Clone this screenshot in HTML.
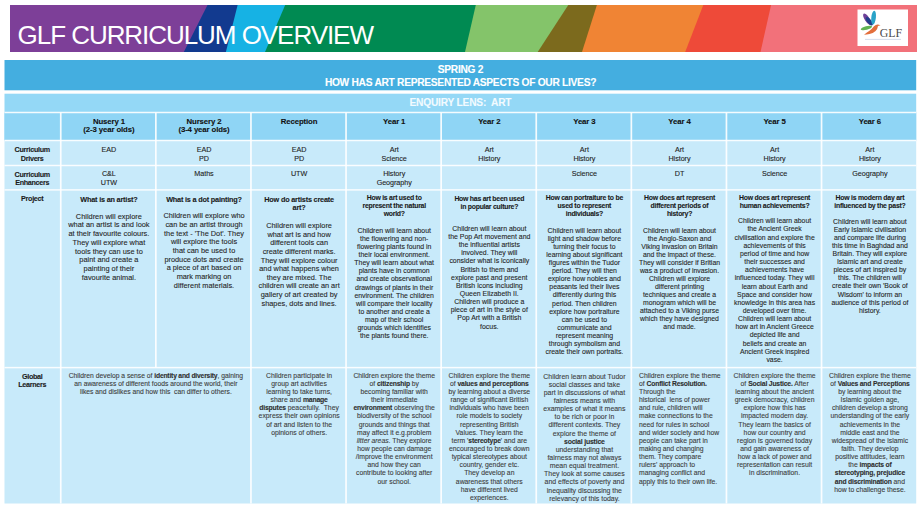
<!DOCTYPE html>
<html><head><meta charset="utf-8"><style>
html,body{margin:0;padding:0;background:#fff;width:920px;height:508px;overflow:hidden;}
body{position:relative;font-family:"Liberation Sans",sans-serif;}
.t{position:absolute;white-space:nowrap;-webkit-text-stroke:0.1px currentColor;}
svg{position:absolute;left:0;top:0;}
b{font-weight:700;}
</style></head><body>
<svg width="920" height="508" viewBox="0 0 920 508">
<clipPath id="bc"><rect x="10" y="5" width="907" height="47"/></clipPath><g clip-path="url(#bc)">
<path d="M0,0 L922,0 L922,60 L0,60 Z" fill="#7d3f98"/>
<path d="M209.01276595744682,2 L922,2 L922,55 L182.2872340425532,55 Z" fill="#123a8f"/>
<path d="M238.34680851063828,2 L922,2 L922,55 L225.15319148936172,55 Z" fill="#16b2e4"/>
<path d="M286.48936170212767,2 L922,2 L922,55 L263.7106382978723,55 Z" fill="#008a52"/>
<path d="M476.48936170212767,2 L922,2 L922,55 L464.31063829787234,55 Z" fill="#84c46a"/>
<path d="M570.2531914893616,2 L922,2 L922,55 L535.7468085106384,55 Z" fill="#7c6a1d"/>
<path d="M597.8510638297872,2 L922,2 L922,55 L581.0489361702128,55 Z" fill="#f08434"/>
<path d="M704.4553191489362,2 L922,2 L922,55 L684.0446808510638,55 Z" fill="#ee4a39"/>
<path d="M771.7765957446809,2 L922,2 L922,55 L759.8234042553191,55 Z" fill="#f2717a"/>
</g>
<rect x="4.5" y="60.0" width="911.7" height="30.299999999999997" fill="#44aee0"/>
<rect x="4.5" y="93.7" width="911.7" height="46.8" fill="#94d8f6"/>
<rect x="4.5" y="112.5" width="911.7" height="28.0" fill="#8fd5f5"/>
<rect x="4.5" y="140.5" width="911.7" height="363.0" fill="#c8eafa"/>
<rect x="4.5" y="111.75" width="911.7" height="1.5" fill="#fff" opacity="0.9"/>
<rect x="4.5" y="139.75" width="911.7" height="1.5" fill="#fff" opacity="0.9"/>
<rect x="4.5" y="164.75" width="911.7" height="1.5" fill="#fff" opacity="0.9"/>
<rect x="4.5" y="189.15" width="911.7" height="1.5" fill="#fff" opacity="0.9"/>
<rect x="4.5" y="366.85" width="911.7" height="1.5" fill="#fff" opacity="0.9"/>
<rect x="59.9" y="112.5" width="1.7" height="391.0" fill="#fff" opacity="0.9"/>
<rect x="155.0" y="112.5" width="1.7" height="255.10000000000002" fill="#fff" opacity="0.9"/>
<rect x="250.1" y="112.5" width="1.7" height="391.0" fill="#fff" opacity="0.9"/>
<rect x="345.19999999999993" y="112.5" width="1.7" height="391.0" fill="#fff" opacity="0.9"/>
<rect x="440.29999999999995" y="112.5" width="1.7" height="391.0" fill="#fff" opacity="0.9"/>
<rect x="535.4" y="112.5" width="1.7" height="391.0" fill="#fff" opacity="0.9"/>
<rect x="630.4999999999999" y="112.5" width="1.7" height="391.0" fill="#fff" opacity="0.9"/>
<rect x="725.5999999999999" y="112.5" width="1.7" height="391.0" fill="#fff" opacity="0.9"/>
<rect x="820.6999999999999" y="112.5" width="1.7" height="391.0" fill="#fff" opacity="0.9"/>
<rect x="857.5" y="9.5" width="50.5" height="36.5" fill="#fff"/>
<ellipse cx="867.2" cy="19.2" rx="2.4" ry="6.6" transform="rotate(-33 867.2 19.2)" fill="#6d4198"/>
<ellipse cx="869.3" cy="21.3" rx="2.1" ry="5" transform="rotate(-38 869.3 21.3)" fill="#213f8c"/>
<ellipse cx="873.6" cy="17.6" rx="2.3" ry="7" transform="rotate(6 873.6 17.6)" fill="#2aa3c8"/>
<ellipse cx="866.4" cy="28" rx="5.8" ry="1.9" transform="rotate(-14 866.4 28)" fill="#62b352"/>
<path d="M864,34.8 Q867,32.4 869.5,30.8 Q872.2,28.6 874,26.2 Q875.8,24.2 878,24.4 L880.6,25.3 L878,25.9 Q877.6,28.8 875.6,31 Q873,33.4 869.5,34 Q866.5,34.6 864,34.8 Z" fill="#e36f3c"/>
<rect x="865" y="38.9" width="36" height="0.8" fill="#c9d3e6"/>
</svg>
<div class="t" style="left:17.6px;top:17.8px;font-size:26px;-webkit-text-stroke:0;line-height:34px;color:#fff;letter-spacing:-1.05px;">GLF CURRICULUM OVERVIEW</div>
<div class="t" style="left:879.8px;top:26.2px;-webkit-text-stroke:0;font-family:'Liberation Serif',serif;font-size:11.8px;line-height:14px;color:#4a4a4a;">GLF</div>
<div class="t" style="left:260.50px;width:400px;text-align:center;top:63.29px;font-size:10.2px;line-height:13.26px;font-weight:700;color:#fff;letter-spacing:-0.27px;">SPRING 2</div>
<div class="t" style="left:260.50px;width:400px;text-align:center;top:76.49px;font-size:10.2px;line-height:13.26px;font-weight:700;color:#fff;letter-spacing:-0.27px;">HOW HAS ART REPRESENTED ASPECTS OF OUR LIVES?</div>
<div class="t" style="left:310.40px;width:300px;text-align:center;top:96.29px;font-size:10.2px;line-height:13.26px;font-weight:700;color:#f2fbff;letter-spacing:-0.2px;">ENQUIRY LENS:&nbsp; ART</div>
<div class="t" style="left:61.90px;width:94px;text-align:center;top:116.78px;font-size:7.8px;line-height:10.14px;font-weight:700;color:#111;letter-spacing:-0.12px;">Nusery 1</div>
<div class="t" style="left:61.90px;width:94px;text-align:center;top:125.38px;font-size:7.8px;line-height:10.14px;font-weight:700;color:#111;letter-spacing:-0.12px;">(2-3 year olds)</div>
<div class="t" style="left:157.00px;width:94px;text-align:center;top:116.78px;font-size:7.8px;line-height:10.14px;font-weight:700;color:#111;letter-spacing:-0.12px;">Nursery 2</div>
<div class="t" style="left:157.00px;width:94px;text-align:center;top:125.38px;font-size:7.8px;line-height:10.14px;font-weight:700;color:#111;letter-spacing:-0.12px;">(3-4 year olds)</div>
<div class="t" style="left:252.10px;width:94px;text-align:center;top:116.78px;font-size:7.8px;line-height:10.14px;font-weight:700;color:#111;letter-spacing:-0.12px;">Reception</div>
<div class="t" style="left:347.20px;width:94px;text-align:center;top:116.78px;font-size:7.8px;line-height:10.14px;font-weight:700;color:#111;letter-spacing:-0.12px;">Year 1</div>
<div class="t" style="left:442.30px;width:94px;text-align:center;top:116.78px;font-size:7.8px;line-height:10.14px;font-weight:700;color:#111;letter-spacing:-0.12px;">Year 2</div>
<div class="t" style="left:537.40px;width:94px;text-align:center;top:116.78px;font-size:7.8px;line-height:10.14px;font-weight:700;color:#111;letter-spacing:-0.12px;">Year 3</div>
<div class="t" style="left:632.50px;width:94px;text-align:center;top:116.78px;font-size:7.8px;line-height:10.14px;font-weight:700;color:#111;letter-spacing:-0.12px;">Year 4</div>
<div class="t" style="left:727.60px;width:94px;text-align:center;top:116.78px;font-size:7.8px;line-height:10.14px;font-weight:700;color:#111;letter-spacing:-0.12px;">Year 5</div>
<div class="t" style="left:822.90px;width:94px;text-align:center;top:116.78px;font-size:7.8px;line-height:10.14px;font-weight:700;color:#111;letter-spacing:-0.12px;">Year 6</div>
<div class="t" style="left:4.20px;width:56px;text-align:center;top:145.38px;font-size:7.2px;line-height:9.36px;font-weight:700;color:#1b1b1b;letter-spacing:-0.3px;">Curriculum</div>
<div class="t" style="left:4.20px;width:56px;text-align:center;top:153.88px;font-size:7.2px;line-height:9.36px;font-weight:700;color:#1b1b1b;letter-spacing:-0.3px;">Drivers</div>
<div class="t" style="left:4.20px;width:56px;text-align:center;top:169.68px;font-size:7.2px;line-height:9.36px;font-weight:700;color:#1b1b1b;letter-spacing:-0.3px;">Curriculum</div>
<div class="t" style="left:4.20px;width:56px;text-align:center;top:178.18px;font-size:7.2px;line-height:9.36px;font-weight:700;color:#1b1b1b;letter-spacing:-0.3px;">Enhancers</div>
<div class="t" style="left:4.20px;width:56px;text-align:center;top:193.98px;font-size:7.2px;line-height:9.36px;font-weight:700;color:#1b1b1b;letter-spacing:-0.3px;">Project</div>
<div class="t" style="left:4.20px;width:56px;text-align:center;top:371.88px;font-size:7.2px;line-height:9.36px;font-weight:700;color:#1b1b1b;letter-spacing:-0.3px;">Global</div>
<div class="t" style="left:4.20px;width:56px;text-align:center;top:380.38px;font-size:7.2px;line-height:9.36px;font-weight:700;color:#1b1b1b;letter-spacing:-0.3px;">Learners</div>
<div class="t" style="left:61.90px;width:94px;text-align:center;top:145.28px;font-size:7.2px;line-height:9.36px;font-weight:400;color:#222;letter-spacing:-0.05px;">EAD</div>
<div class="t" style="left:61.90px;width:94px;text-align:center;top:169.18px;font-size:7.2px;line-height:9.36px;font-weight:400;color:#222;letter-spacing:-0.05px;">C&amp;L</div>
<div class="t" style="left:61.90px;width:94px;text-align:center;top:177.58px;font-size:7.2px;line-height:9.36px;font-weight:400;color:#222;letter-spacing:-0.05px;">UTW</div>
<div class="t" style="left:157.00px;width:94px;text-align:center;top:145.28px;font-size:7.2px;line-height:9.36px;font-weight:400;color:#222;letter-spacing:-0.05px;">EAD</div>
<div class="t" style="left:157.00px;width:94px;text-align:center;top:153.88px;font-size:7.2px;line-height:9.36px;font-weight:400;color:#222;letter-spacing:-0.05px;">PD</div>
<div class="t" style="left:157.00px;width:94px;text-align:center;top:169.18px;font-size:7.2px;line-height:9.36px;font-weight:400;color:#222;letter-spacing:-0.05px;">Maths</div>
<div class="t" style="left:252.10px;width:94px;text-align:center;top:145.28px;font-size:7.2px;line-height:9.36px;font-weight:400;color:#222;letter-spacing:-0.05px;">EAD</div>
<div class="t" style="left:252.10px;width:94px;text-align:center;top:153.88px;font-size:7.2px;line-height:9.36px;font-weight:400;color:#222;letter-spacing:-0.05px;">PD</div>
<div class="t" style="left:252.10px;width:94px;text-align:center;top:169.18px;font-size:7.2px;line-height:9.36px;font-weight:400;color:#222;letter-spacing:-0.05px;">UTW</div>
<div class="t" style="left:347.20px;width:94px;text-align:center;top:145.28px;font-size:7.2px;line-height:9.36px;font-weight:400;color:#222;letter-spacing:-0.05px;">Art</div>
<div class="t" style="left:347.20px;width:94px;text-align:center;top:153.88px;font-size:7.2px;line-height:9.36px;font-weight:400;color:#222;letter-spacing:-0.05px;">Science</div>
<div class="t" style="left:347.20px;width:94px;text-align:center;top:169.18px;font-size:7.2px;line-height:9.36px;font-weight:400;color:#222;letter-spacing:-0.05px;">History</div>
<div class="t" style="left:347.20px;width:94px;text-align:center;top:177.58px;font-size:7.2px;line-height:9.36px;font-weight:400;color:#222;letter-spacing:-0.05px;">Geography</div>
<div class="t" style="left:442.30px;width:94px;text-align:center;top:145.28px;font-size:7.2px;line-height:9.36px;font-weight:400;color:#222;letter-spacing:-0.05px;">Art</div>
<div class="t" style="left:442.30px;width:94px;text-align:center;top:153.88px;font-size:7.2px;line-height:9.36px;font-weight:400;color:#222;letter-spacing:-0.05px;">History</div>
<div class="t" style="left:537.40px;width:94px;text-align:center;top:145.28px;font-size:7.2px;line-height:9.36px;font-weight:400;color:#222;letter-spacing:-0.05px;">Art</div>
<div class="t" style="left:537.40px;width:94px;text-align:center;top:153.88px;font-size:7.2px;line-height:9.36px;font-weight:400;color:#222;letter-spacing:-0.05px;">History</div>
<div class="t" style="left:537.40px;width:94px;text-align:center;top:169.18px;font-size:7.2px;line-height:9.36px;font-weight:400;color:#222;letter-spacing:-0.05px;">Science</div>
<div class="t" style="left:632.50px;width:94px;text-align:center;top:145.28px;font-size:7.2px;line-height:9.36px;font-weight:400;color:#222;letter-spacing:-0.05px;">Art</div>
<div class="t" style="left:632.50px;width:94px;text-align:center;top:153.88px;font-size:7.2px;line-height:9.36px;font-weight:400;color:#222;letter-spacing:-0.05px;">History</div>
<div class="t" style="left:632.50px;width:94px;text-align:center;top:169.18px;font-size:7.2px;line-height:9.36px;font-weight:400;color:#222;letter-spacing:-0.05px;">DT</div>
<div class="t" style="left:727.60px;width:94px;text-align:center;top:145.28px;font-size:7.2px;line-height:9.36px;font-weight:400;color:#222;letter-spacing:-0.05px;">Art</div>
<div class="t" style="left:727.60px;width:94px;text-align:center;top:153.88px;font-size:7.2px;line-height:9.36px;font-weight:400;color:#222;letter-spacing:-0.05px;">History</div>
<div class="t" style="left:727.60px;width:94px;text-align:center;top:169.18px;font-size:7.2px;line-height:9.36px;font-weight:400;color:#222;letter-spacing:-0.05px;">Science</div>
<div class="t" style="left:822.90px;width:94px;text-align:center;top:145.28px;font-size:7.2px;line-height:9.36px;font-weight:400;color:#222;letter-spacing:-0.05px;">Art</div>
<div class="t" style="left:822.90px;width:94px;text-align:center;top:153.88px;font-size:7.2px;line-height:9.36px;font-weight:400;color:#222;letter-spacing:-0.05px;">History</div>
<div class="t" style="left:822.90px;width:94px;text-align:center;top:169.18px;font-size:7.2px;line-height:9.36px;font-weight:400;color:#222;letter-spacing:-0.05px;">Geography</div>
<div class="t" style="left:53.90px;width:110px;text-align:center;top:194.68px;font-size:7.3px;line-height:9.49px;font-weight:700;color:#1a1a1a;letter-spacing:-0.2px;">What is an artist?</div>
<div class="t" style="left:53.90px;width:110px;text-align:center;top:211.78px;font-size:7.4px;line-height:9.62px;font-weight:400;color:#262626;letter-spacing:0px;">Children will explore</div>
<div class="t" style="left:53.90px;width:110px;text-align:center;top:220.48px;font-size:7.4px;line-height:9.62px;font-weight:400;color:#262626;letter-spacing:0px;">what an artist is and look</div>
<div class="t" style="left:53.90px;width:110px;text-align:center;top:229.18px;font-size:7.4px;line-height:9.62px;font-weight:400;color:#262626;letter-spacing:0px;">at their favourite colours.</div>
<div class="t" style="left:53.90px;width:110px;text-align:center;top:237.88px;font-size:7.4px;line-height:9.62px;font-weight:400;color:#262626;letter-spacing:0px;">They will explore what</div>
<div class="t" style="left:53.90px;width:110px;text-align:center;top:246.58px;font-size:7.4px;line-height:9.62px;font-weight:400;color:#262626;letter-spacing:0px;">tools they can use to</div>
<div class="t" style="left:53.90px;width:110px;text-align:center;top:255.28px;font-size:7.4px;line-height:9.62px;font-weight:400;color:#262626;letter-spacing:0px;">paint and create a</div>
<div class="t" style="left:53.90px;width:110px;text-align:center;top:263.98px;font-size:7.4px;line-height:9.62px;font-weight:400;color:#262626;letter-spacing:0px;">painting of their</div>
<div class="t" style="left:53.90px;width:110px;text-align:center;top:272.68px;font-size:7.4px;line-height:9.62px;font-weight:400;color:#262626;letter-spacing:0px;">favourite animal.</div>
<div class="t" style="left:149.00px;width:110px;text-align:center;top:194.68px;font-size:7.3px;line-height:9.49px;font-weight:700;color:#1a1a1a;letter-spacing:-0.2px;">What is a dot painting?</div>
<div class="t" style="left:149.00px;width:110px;text-align:center;top:211.43px;font-size:7.35px;line-height:9.55px;font-weight:400;color:#262626;letter-spacing:0px;">Children will explore who</div>
<div class="t" style="left:149.00px;width:110px;text-align:center;top:220.09px;font-size:7.35px;line-height:9.55px;font-weight:400;color:#262626;letter-spacing:0px;">can be an artist through</div>
<div class="t" style="left:149.00px;width:110px;text-align:center;top:228.75px;font-size:7.35px;line-height:9.55px;font-weight:400;color:#262626;letter-spacing:0px;">the text - 'The Dot'. They</div>
<div class="t" style="left:149.00px;width:110px;text-align:center;top:237.41px;font-size:7.35px;line-height:9.55px;font-weight:400;color:#262626;letter-spacing:0px;">will explore the tools</div>
<div class="t" style="left:149.00px;width:110px;text-align:center;top:246.07px;font-size:7.35px;line-height:9.55px;font-weight:400;color:#262626;letter-spacing:0px;">that can be used to</div>
<div class="t" style="left:149.00px;width:110px;text-align:center;top:254.73px;font-size:7.35px;line-height:9.55px;font-weight:400;color:#262626;letter-spacing:0px;">produce dots and create</div>
<div class="t" style="left:149.00px;width:110px;text-align:center;top:263.39px;font-size:7.35px;line-height:9.55px;font-weight:400;color:#262626;letter-spacing:0px;">a piece of art based on</div>
<div class="t" style="left:149.00px;width:110px;text-align:center;top:272.05px;font-size:7.35px;line-height:9.55px;font-weight:400;color:#262626;letter-spacing:0px;">mark marking on</div>
<div class="t" style="left:149.00px;width:110px;text-align:center;top:280.71px;font-size:7.35px;line-height:9.55px;font-weight:400;color:#262626;letter-spacing:0px;">different materials.</div>
<div class="t" style="left:244.10px;width:110px;text-align:center;top:194.68px;font-size:7.3px;line-height:9.49px;font-weight:700;color:#1a1a1a;letter-spacing:-0.2px;">How do artists create</div>
<div class="t" style="left:244.10px;width:110px;text-align:center;top:202.98px;font-size:7.3px;line-height:9.49px;font-weight:700;color:#1a1a1a;letter-spacing:-0.2px;">art?</div>
<div class="t" style="left:244.10px;width:110px;text-align:center;top:221.23px;font-size:7.35px;line-height:9.55px;font-weight:400;color:#262626;letter-spacing:0px;">Children will explore</div>
<div class="t" style="left:244.10px;width:110px;text-align:center;top:229.83px;font-size:7.35px;line-height:9.55px;font-weight:400;color:#262626;letter-spacing:0px;">what art is and how</div>
<div class="t" style="left:244.10px;width:110px;text-align:center;top:238.43px;font-size:7.35px;line-height:9.55px;font-weight:400;color:#262626;letter-spacing:0px;">different tools can</div>
<div class="t" style="left:244.10px;width:110px;text-align:center;top:247.03px;font-size:7.35px;line-height:9.55px;font-weight:400;color:#262626;letter-spacing:0px;">create different marks.</div>
<div class="t" style="left:244.10px;width:110px;text-align:center;top:255.63px;font-size:7.35px;line-height:9.55px;font-weight:400;color:#262626;letter-spacing:0px;">They will explore colour</div>
<div class="t" style="left:244.10px;width:110px;text-align:center;top:264.23px;font-size:7.35px;line-height:9.55px;font-weight:400;color:#262626;letter-spacing:0px;">and what happens when</div>
<div class="t" style="left:244.10px;width:110px;text-align:center;top:272.83px;font-size:7.35px;line-height:9.55px;font-weight:400;color:#262626;letter-spacing:0px;">they are mixed. The</div>
<div class="t" style="left:244.10px;width:110px;text-align:center;top:281.43px;font-size:7.35px;line-height:9.55px;font-weight:400;color:#262626;letter-spacing:0px;">children will create an art</div>
<div class="t" style="left:244.10px;width:110px;text-align:center;top:290.03px;font-size:7.35px;line-height:9.55px;font-weight:400;color:#262626;letter-spacing:0px;">gallery of art created by</div>
<div class="t" style="left:244.10px;width:110px;text-align:center;top:298.63px;font-size:7.35px;line-height:9.55px;font-weight:400;color:#262626;letter-spacing:0px;">shapes, dots and lines.</div>
<div class="t" style="left:339.20px;width:110px;text-align:center;top:194.17px;font-size:6.9px;line-height:8.97px;font-weight:700;color:#1a1a1a;letter-spacing:-0.25px;">How is art used to</div>
<div class="t" style="left:339.20px;width:110px;text-align:center;top:201.87px;font-size:6.9px;line-height:8.97px;font-weight:700;color:#1a1a1a;letter-spacing:-0.25px;">represent the natural</div>
<div class="t" style="left:339.20px;width:110px;text-align:center;top:209.57px;font-size:6.9px;line-height:8.97px;font-weight:700;color:#1a1a1a;letter-spacing:-0.25px;">world?</div>
<div class="t" style="left:339.20px;width:110px;text-align:center;top:226.97px;font-size:6.9px;line-height:8.97px;font-weight:400;color:#262626;letter-spacing:0px;">Children will learn about</div>
<div class="t" style="left:339.20px;width:110px;text-align:center;top:235.05px;font-size:6.9px;line-height:8.97px;font-weight:400;color:#262626;letter-spacing:0px;">the flowering and non-</div>
<div class="t" style="left:339.20px;width:110px;text-align:center;top:243.13px;font-size:6.9px;line-height:8.97px;font-weight:400;color:#262626;letter-spacing:0px;">flowering plants found in</div>
<div class="t" style="left:339.20px;width:110px;text-align:center;top:251.21px;font-size:6.9px;line-height:8.97px;font-weight:400;color:#262626;letter-spacing:0px;">their local environment.</div>
<div class="t" style="left:339.20px;width:110px;text-align:center;top:259.29px;font-size:6.9px;line-height:8.97px;font-weight:400;color:#262626;letter-spacing:0px;">They will learn about what</div>
<div class="t" style="left:339.20px;width:110px;text-align:center;top:267.37px;font-size:6.9px;line-height:8.97px;font-weight:400;color:#262626;letter-spacing:0px;">plants have in common</div>
<div class="t" style="left:339.20px;width:110px;text-align:center;top:275.45px;font-size:6.9px;line-height:8.97px;font-weight:400;color:#262626;letter-spacing:0px;">and create observational</div>
<div class="t" style="left:339.20px;width:110px;text-align:center;top:283.53px;font-size:6.9px;line-height:8.97px;font-weight:400;color:#262626;letter-spacing:0px;">drawings of plants in their</div>
<div class="t" style="left:339.20px;width:110px;text-align:center;top:291.61px;font-size:6.9px;line-height:8.97px;font-weight:400;color:#262626;letter-spacing:0px;">environment. The children</div>
<div class="t" style="left:339.20px;width:110px;text-align:center;top:299.69px;font-size:6.9px;line-height:8.97px;font-weight:400;color:#262626;letter-spacing:0px;">will compare their locality</div>
<div class="t" style="left:339.20px;width:110px;text-align:center;top:307.77px;font-size:6.9px;line-height:8.97px;font-weight:400;color:#262626;letter-spacing:0px;">to another and create a</div>
<div class="t" style="left:339.20px;width:110px;text-align:center;top:315.85px;font-size:6.9px;line-height:8.97px;font-weight:400;color:#262626;letter-spacing:0px;">map of their school</div>
<div class="t" style="left:339.20px;width:110px;text-align:center;top:323.93px;font-size:6.9px;line-height:8.97px;font-weight:400;color:#262626;letter-spacing:0px;">grounds which identifies</div>
<div class="t" style="left:339.20px;width:110px;text-align:center;top:332.01px;font-size:6.9px;line-height:8.97px;font-weight:400;color:#262626;letter-spacing:0px;">the plants found there.</div>
<div class="t" style="left:434.30px;width:110px;text-align:center;top:194.87px;font-size:6.9px;line-height:8.97px;font-weight:700;color:#1a1a1a;letter-spacing:-0.25px;">How has art been used</div>
<div class="t" style="left:434.30px;width:110px;text-align:center;top:202.67px;font-size:6.9px;line-height:8.97px;font-weight:700;color:#1a1a1a;letter-spacing:-0.25px;">in popular culture?</div>
<div class="t" style="left:434.30px;width:110px;text-align:center;top:223.82px;font-size:6.95px;line-height:9.04px;font-weight:400;color:#262626;letter-spacing:0px;">Children will learn about</div>
<div class="t" style="left:434.30px;width:110px;text-align:center;top:231.97px;font-size:6.95px;line-height:9.04px;font-weight:400;color:#262626;letter-spacing:0px;">the Pop Art movement and</div>
<div class="t" style="left:434.30px;width:110px;text-align:center;top:240.12px;font-size:6.95px;line-height:9.04px;font-weight:400;color:#262626;letter-spacing:0px;">the influential artists</div>
<div class="t" style="left:434.30px;width:110px;text-align:center;top:248.27px;font-size:6.95px;line-height:9.04px;font-weight:400;color:#262626;letter-spacing:0px;">involved. They will</div>
<div class="t" style="left:434.30px;width:110px;text-align:center;top:256.42px;font-size:6.95px;line-height:9.04px;font-weight:400;color:#262626;letter-spacing:0px;">consider what is iconically</div>
<div class="t" style="left:434.30px;width:110px;text-align:center;top:264.57px;font-size:6.95px;line-height:9.04px;font-weight:400;color:#262626;letter-spacing:0px;">British to them and</div>
<div class="t" style="left:434.30px;width:110px;text-align:center;top:272.72px;font-size:6.95px;line-height:9.04px;font-weight:400;color:#262626;letter-spacing:0px;">explore past and present</div>
<div class="t" style="left:434.30px;width:110px;text-align:center;top:280.87px;font-size:6.95px;line-height:9.04px;font-weight:400;color:#262626;letter-spacing:0px;">British icons including</div>
<div class="t" style="left:434.30px;width:110px;text-align:center;top:289.02px;font-size:6.95px;line-height:9.04px;font-weight:400;color:#262626;letter-spacing:0px;">Queen Elizabeth II.</div>
<div class="t" style="left:434.30px;width:110px;text-align:center;top:297.17px;font-size:6.95px;line-height:9.04px;font-weight:400;color:#262626;letter-spacing:0px;">Children will produce a</div>
<div class="t" style="left:434.30px;width:110px;text-align:center;top:305.32px;font-size:6.95px;line-height:9.04px;font-weight:400;color:#262626;letter-spacing:0px;">piece of art in the style of</div>
<div class="t" style="left:434.30px;width:110px;text-align:center;top:313.47px;font-size:6.95px;line-height:9.04px;font-weight:400;color:#262626;letter-spacing:0px;">Pop Art with a British</div>
<div class="t" style="left:434.30px;width:110px;text-align:center;top:321.62px;font-size:6.95px;line-height:9.04px;font-weight:400;color:#262626;letter-spacing:0px;">focus.</div>
<div class="t" style="left:529.40px;width:110px;text-align:center;top:193.97px;font-size:6.9px;line-height:8.97px;font-weight:700;color:#1a1a1a;letter-spacing:-0.25px;">How can portraiture to be</div>
<div class="t" style="left:529.40px;width:110px;text-align:center;top:201.97px;font-size:6.9px;line-height:8.97px;font-weight:700;color:#1a1a1a;letter-spacing:-0.25px;">used to represent</div>
<div class="t" style="left:529.40px;width:110px;text-align:center;top:209.97px;font-size:6.9px;line-height:8.97px;font-weight:700;color:#1a1a1a;letter-spacing:-0.25px;">individuals?</div>
<div class="t" style="left:529.40px;width:110px;text-align:center;top:226.67px;font-size:6.9px;line-height:8.97px;font-weight:400;color:#262626;letter-spacing:0px;">Children will learn about</div>
<div class="t" style="left:529.40px;width:110px;text-align:center;top:234.77px;font-size:6.9px;line-height:8.97px;font-weight:400;color:#262626;letter-spacing:0px;">light and shadow before</div>
<div class="t" style="left:529.40px;width:110px;text-align:center;top:242.87px;font-size:6.9px;line-height:8.97px;font-weight:400;color:#262626;letter-spacing:0px;">turning their focus to</div>
<div class="t" style="left:529.40px;width:110px;text-align:center;top:250.97px;font-size:6.9px;line-height:8.97px;font-weight:400;color:#262626;letter-spacing:0px;">learning about significant</div>
<div class="t" style="left:529.40px;width:110px;text-align:center;top:259.07px;font-size:6.9px;line-height:8.97px;font-weight:400;color:#262626;letter-spacing:0px;">figures within the Tudor</div>
<div class="t" style="left:529.40px;width:110px;text-align:center;top:267.17px;font-size:6.9px;line-height:8.97px;font-weight:400;color:#262626;letter-spacing:0px;">period. They will then</div>
<div class="t" style="left:529.40px;width:110px;text-align:center;top:275.27px;font-size:6.9px;line-height:8.97px;font-weight:400;color:#262626;letter-spacing:0px;">explore how nobles and</div>
<div class="t" style="left:529.40px;width:110px;text-align:center;top:283.37px;font-size:6.9px;line-height:8.97px;font-weight:400;color:#262626;letter-spacing:0px;">peasants led their lives</div>
<div class="t" style="left:529.40px;width:110px;text-align:center;top:291.47px;font-size:6.9px;line-height:8.97px;font-weight:400;color:#262626;letter-spacing:0px;">differently during this</div>
<div class="t" style="left:529.40px;width:110px;text-align:center;top:299.57px;font-size:6.9px;line-height:8.97px;font-weight:400;color:#262626;letter-spacing:0px;">period. Then children</div>
<div class="t" style="left:529.40px;width:110px;text-align:center;top:307.67px;font-size:6.9px;line-height:8.97px;font-weight:400;color:#262626;letter-spacing:0px;">explore how portraiture</div>
<div class="t" style="left:529.40px;width:110px;text-align:center;top:315.77px;font-size:6.9px;line-height:8.97px;font-weight:400;color:#262626;letter-spacing:0px;">can be used to</div>
<div class="t" style="left:529.40px;width:110px;text-align:center;top:323.87px;font-size:6.9px;line-height:8.97px;font-weight:400;color:#262626;letter-spacing:0px;">communicate and</div>
<div class="t" style="left:529.40px;width:110px;text-align:center;top:331.97px;font-size:6.9px;line-height:8.97px;font-weight:400;color:#262626;letter-spacing:0px;">represent meaning</div>
<div class="t" style="left:529.40px;width:110px;text-align:center;top:340.07px;font-size:6.9px;line-height:8.97px;font-weight:400;color:#262626;letter-spacing:0px;">through symbolism and</div>
<div class="t" style="left:529.40px;width:110px;text-align:center;top:348.17px;font-size:6.9px;line-height:8.97px;font-weight:400;color:#262626;letter-spacing:0px;">create their own portraits.</div>
<div class="t" style="left:624.50px;width:110px;text-align:center;top:193.97px;font-size:6.9px;line-height:8.97px;font-weight:700;color:#1a1a1a;letter-spacing:-0.25px;">How does art represent</div>
<div class="t" style="left:624.50px;width:110px;text-align:center;top:201.97px;font-size:6.9px;line-height:8.97px;font-weight:700;color:#1a1a1a;letter-spacing:-0.25px;">different periods of</div>
<div class="t" style="left:624.50px;width:110px;text-align:center;top:209.97px;font-size:6.9px;line-height:8.97px;font-weight:700;color:#1a1a1a;letter-spacing:-0.25px;">history?</div>
<div class="t" style="left:624.50px;width:110px;text-align:center;top:226.73px;font-size:6.85px;line-height:8.9px;font-weight:400;color:#262626;letter-spacing:0px;">Children will learn about</div>
<div class="t" style="left:624.50px;width:110px;text-align:center;top:234.77px;font-size:6.85px;line-height:8.9px;font-weight:400;color:#262626;letter-spacing:0px;">the Anglo-Saxon and</div>
<div class="t" style="left:624.50px;width:110px;text-align:center;top:242.81px;font-size:6.85px;line-height:8.9px;font-weight:400;color:#262626;letter-spacing:0px;">Viking invasion on Britain</div>
<div class="t" style="left:624.50px;width:110px;text-align:center;top:250.85px;font-size:6.85px;line-height:8.9px;font-weight:400;color:#262626;letter-spacing:0px;">and the impact of these.</div>
<div class="t" style="left:624.50px;width:110px;text-align:center;top:258.89px;font-size:6.85px;line-height:8.9px;font-weight:400;color:#262626;letter-spacing:0px;">They will consider if Britian</div>
<div class="t" style="left:624.50px;width:110px;text-align:center;top:266.93px;font-size:6.85px;line-height:8.9px;font-weight:400;color:#262626;letter-spacing:0px;">was a product of invasion.</div>
<div class="t" style="left:624.50px;width:110px;text-align:center;top:274.97px;font-size:6.85px;line-height:8.9px;font-weight:400;color:#262626;letter-spacing:0px;">Children will explore</div>
<div class="t" style="left:624.50px;width:110px;text-align:center;top:283.01px;font-size:6.85px;line-height:8.9px;font-weight:400;color:#262626;letter-spacing:0px;">different printing</div>
<div class="t" style="left:624.50px;width:110px;text-align:center;top:291.05px;font-size:6.85px;line-height:8.9px;font-weight:400;color:#262626;letter-spacing:0px;">techniques and create a</div>
<div class="t" style="left:624.50px;width:110px;text-align:center;top:299.09px;font-size:6.85px;line-height:8.9px;font-weight:400;color:#262626;letter-spacing:0px;">monogram which will be</div>
<div class="t" style="left:624.50px;width:110px;text-align:center;top:307.13px;font-size:6.85px;line-height:8.9px;font-weight:400;color:#262626;letter-spacing:0px;">attached to a Viking purse</div>
<div class="t" style="left:624.50px;width:110px;text-align:center;top:315.17px;font-size:6.85px;line-height:8.9px;font-weight:400;color:#262626;letter-spacing:0px;">which they have designed</div>
<div class="t" style="left:624.50px;width:110px;text-align:center;top:323.21px;font-size:6.85px;line-height:8.9px;font-weight:400;color:#262626;letter-spacing:0px;">and made.</div>
<div class="t" style="left:719.60px;width:110px;text-align:center;top:193.97px;font-size:6.9px;line-height:8.97px;font-weight:700;color:#1a1a1a;letter-spacing:-0.25px;">How does art represent</div>
<div class="t" style="left:719.60px;width:110px;text-align:center;top:201.97px;font-size:6.9px;line-height:8.97px;font-weight:700;color:#1a1a1a;letter-spacing:-0.25px;">human achievements?</div>
<div class="t" style="left:719.60px;width:110px;text-align:center;top:217.33px;font-size:6.85px;line-height:8.9px;font-weight:400;color:#262626;letter-spacing:0px;">Children will learn about</div>
<div class="t" style="left:719.60px;width:110px;text-align:center;top:225.48px;font-size:6.85px;line-height:8.9px;font-weight:400;color:#262626;letter-spacing:0px;">the Ancient Greek</div>
<div class="t" style="left:719.60px;width:110px;text-align:center;top:233.63px;font-size:6.85px;line-height:8.9px;font-weight:400;color:#262626;letter-spacing:0px;">civilisation and explore the</div>
<div class="t" style="left:719.60px;width:110px;text-align:center;top:241.78px;font-size:6.85px;line-height:8.9px;font-weight:400;color:#262626;letter-spacing:0px;">achievements of this</div>
<div class="t" style="left:719.60px;width:110px;text-align:center;top:249.93px;font-size:6.85px;line-height:8.9px;font-weight:400;color:#262626;letter-spacing:0px;">period of time and how</div>
<div class="t" style="left:719.60px;width:110px;text-align:center;top:258.08px;font-size:6.85px;line-height:8.9px;font-weight:400;color:#262626;letter-spacing:0px;">their successes and</div>
<div class="t" style="left:719.60px;width:110px;text-align:center;top:266.23px;font-size:6.85px;line-height:8.9px;font-weight:400;color:#262626;letter-spacing:0px;">achievements have</div>
<div class="t" style="left:719.60px;width:110px;text-align:center;top:274.38px;font-size:6.85px;line-height:8.9px;font-weight:400;color:#262626;letter-spacing:0px;">influenced today. They will</div>
<div class="t" style="left:719.60px;width:110px;text-align:center;top:282.53px;font-size:6.85px;line-height:8.9px;font-weight:400;color:#262626;letter-spacing:0px;">learn about Earth and</div>
<div class="t" style="left:719.60px;width:110px;text-align:center;top:290.68px;font-size:6.85px;line-height:8.9px;font-weight:400;color:#262626;letter-spacing:0px;">Space and consider how</div>
<div class="t" style="left:719.60px;width:110px;text-align:center;top:298.83px;font-size:6.85px;line-height:8.9px;font-weight:400;color:#262626;letter-spacing:0px;">knowledge in this area has</div>
<div class="t" style="left:719.60px;width:110px;text-align:center;top:306.98px;font-size:6.85px;line-height:8.9px;font-weight:400;color:#262626;letter-spacing:0px;">developed over time.</div>
<div class="t" style="left:719.60px;width:110px;text-align:center;top:315.13px;font-size:6.85px;line-height:8.9px;font-weight:400;color:#262626;letter-spacing:0px;">Children will learn about</div>
<div class="t" style="left:719.60px;width:110px;text-align:center;top:323.28px;font-size:6.85px;line-height:8.9px;font-weight:400;color:#262626;letter-spacing:0px;">how art in Ancient Greece</div>
<div class="t" style="left:719.60px;width:110px;text-align:center;top:331.43px;font-size:6.85px;line-height:8.9px;font-weight:400;color:#262626;letter-spacing:0px;">depicted life and</div>
<div class="t" style="left:719.60px;width:110px;text-align:center;top:339.58px;font-size:6.85px;line-height:8.9px;font-weight:400;color:#262626;letter-spacing:0px;">beliefs and create an</div>
<div class="t" style="left:719.60px;width:110px;text-align:center;top:347.73px;font-size:6.85px;line-height:8.9px;font-weight:400;color:#262626;letter-spacing:0px;">Ancient Greek inspired</div>
<div class="t" style="left:719.60px;width:110px;text-align:center;top:355.88px;font-size:6.85px;line-height:8.9px;font-weight:400;color:#262626;letter-spacing:0px;">vase.</div>
<div class="t" style="left:814.90px;width:110px;text-align:center;top:193.77px;font-size:6.9px;line-height:8.97px;font-weight:700;color:#1a1a1a;letter-spacing:-0.25px;">How is modern day art</div>
<div class="t" style="left:814.90px;width:110px;text-align:center;top:201.77px;font-size:6.9px;line-height:8.97px;font-weight:700;color:#1a1a1a;letter-spacing:-0.25px;">influenced by the past?</div>
<div class="t" style="left:814.90px;width:110px;text-align:center;top:217.77px;font-size:6.9px;line-height:8.97px;font-weight:400;color:#262626;letter-spacing:0px;">Children will learn about</div>
<div class="t" style="left:814.90px;width:110px;text-align:center;top:225.86px;font-size:6.9px;line-height:8.97px;font-weight:400;color:#262626;letter-spacing:0px;">Early Islamic civilisation</div>
<div class="t" style="left:814.90px;width:110px;text-align:center;top:233.95px;font-size:6.9px;line-height:8.97px;font-weight:400;color:#262626;letter-spacing:0px;">and compare life during</div>
<div class="t" style="left:814.90px;width:110px;text-align:center;top:242.04px;font-size:6.9px;line-height:8.97px;font-weight:400;color:#262626;letter-spacing:0px;">this time in Baghdad and</div>
<div class="t" style="left:814.90px;width:110px;text-align:center;top:250.13px;font-size:6.9px;line-height:8.97px;font-weight:400;color:#262626;letter-spacing:0px;">Britain. They will explore</div>
<div class="t" style="left:814.90px;width:110px;text-align:center;top:258.22px;font-size:6.9px;line-height:8.97px;font-weight:400;color:#262626;letter-spacing:0px;">Islamic art and create</div>
<div class="t" style="left:814.90px;width:110px;text-align:center;top:266.31px;font-size:6.9px;line-height:8.97px;font-weight:400;color:#262626;letter-spacing:0px;">pieces of art inspired by</div>
<div class="t" style="left:814.90px;width:110px;text-align:center;top:274.40px;font-size:6.9px;line-height:8.97px;font-weight:400;color:#262626;letter-spacing:0px;">this. The children will</div>
<div class="t" style="left:814.90px;width:110px;text-align:center;top:282.49px;font-size:6.9px;line-height:8.97px;font-weight:400;color:#262626;letter-spacing:0px;">create their own 'Book of</div>
<div class="t" style="left:814.90px;width:110px;text-align:center;top:290.58px;font-size:6.9px;line-height:8.97px;font-weight:400;color:#262626;letter-spacing:0px;">Wisdom' to inform an</div>
<div class="t" style="left:814.90px;width:110px;text-align:center;top:298.67px;font-size:6.9px;line-height:8.97px;font-weight:400;color:#262626;letter-spacing:0px;">audience of this period of</div>
<div class="t" style="left:814.90px;width:110px;text-align:center;top:306.76px;font-size:6.9px;line-height:8.97px;font-weight:400;color:#262626;letter-spacing:0px;">history.</div>
<div class="t" style="left:55.85px;width:200px;text-align:center;top:371.72px;font-size:6.75px;line-height:8.78px;font-weight:400;color:#3d3d3d;letter-spacing:0px;">Children develop a sense of <b style="color:#2e2e2e;letter-spacing:-0.2px">identity and diversity</b>, gaining</div>
<div class="t" style="left:55.85px;width:200px;text-align:center;top:379.87px;font-size:6.75px;line-height:8.78px;font-weight:400;color:#3d3d3d;letter-spacing:0px;">an awareness of different foods around the world, their</div>
<div class="t" style="left:55.85px;width:200px;text-align:center;top:388.02px;font-size:6.75px;line-height:8.78px;font-weight:400;color:#3d3d3d;letter-spacing:0px;">likes and dislikes and how this&nbsp; can differ to others.</div>
<div class="t" style="left:199.10px;width:200px;text-align:center;top:371.63px;font-size:6.85px;line-height:8.9px;font-weight:400;color:#3d3d3d;letter-spacing:0px;">Children participate in</div>
<div class="t" style="left:199.10px;width:200px;text-align:center;top:379.78px;font-size:6.85px;line-height:8.9px;font-weight:400;color:#3d3d3d;letter-spacing:0px;">group art activities</div>
<div class="t" style="left:199.10px;width:200px;text-align:center;top:387.93px;font-size:6.85px;line-height:8.9px;font-weight:400;color:#3d3d3d;letter-spacing:0px;">learning to take turns,</div>
<div class="t" style="left:199.10px;width:200px;text-align:center;top:396.08px;font-size:6.85px;line-height:8.9px;font-weight:400;color:#3d3d3d;letter-spacing:0px;">share and <b style="color:#2e2e2e;letter-spacing:-0.2px">manage</b></div>
<div class="t" style="left:199.10px;width:200px;text-align:center;top:404.23px;font-size:6.85px;line-height:8.9px;font-weight:400;color:#3d3d3d;letter-spacing:0px;"><b style="color:#2e2e2e;letter-spacing:-0.2px">disputes</b> peacefully.&nbsp; They</div>
<div class="t" style="left:199.10px;width:200px;text-align:center;top:412.38px;font-size:6.85px;line-height:8.9px;font-weight:400;color:#3d3d3d;letter-spacing:0px;">express their own opinions</div>
<div class="t" style="left:199.10px;width:200px;text-align:center;top:420.53px;font-size:6.85px;line-height:8.9px;font-weight:400;color:#3d3d3d;letter-spacing:0px;">of art and listen to the</div>
<div class="t" style="left:199.10px;width:200px;text-align:center;top:428.68px;font-size:6.85px;line-height:8.9px;font-weight:400;color:#3d3d3d;letter-spacing:0px;">opinions of others.</div>
<div class="t" style="left:294.20px;width:200px;text-align:center;top:371.67px;font-size:6.8px;line-height:8.84px;font-weight:400;color:#3d3d3d;letter-spacing:0px;">Children explore the theme</div>
<div class="t" style="left:294.20px;width:200px;text-align:center;top:379.82px;font-size:6.8px;line-height:8.84px;font-weight:400;color:#3d3d3d;letter-spacing:0px;">of <b style="color:#2e2e2e;letter-spacing:-0.2px">citizenship</b> by</div>
<div class="t" style="left:294.20px;width:200px;text-align:center;top:387.97px;font-size:6.8px;line-height:8.84px;font-weight:400;color:#3d3d3d;letter-spacing:0px;">becoming familiar with</div>
<div class="t" style="left:294.20px;width:200px;text-align:center;top:396.12px;font-size:6.8px;line-height:8.84px;font-weight:400;color:#3d3d3d;letter-spacing:0px;">their immediate</div>
<div class="t" style="left:294.20px;width:200px;text-align:center;top:404.27px;font-size:6.8px;line-height:8.84px;font-weight:400;color:#3d3d3d;letter-spacing:0px;"><b style="color:#2e2e2e;letter-spacing:-0.2px">environment</b> observing the</div>
<div class="t" style="left:294.20px;width:200px;text-align:center;top:412.42px;font-size:6.8px;line-height:8.84px;font-weight:400;color:#3d3d3d;letter-spacing:0px;">biodiversity of the school</div>
<div class="t" style="left:294.20px;width:200px;text-align:center;top:420.57px;font-size:6.8px;line-height:8.84px;font-weight:400;color:#3d3d3d;letter-spacing:0px;">grounds and things that</div>
<div class="t" style="left:294.20px;width:200px;text-align:center;top:428.72px;font-size:6.8px;line-height:8.84px;font-weight:400;color:#3d3d3d;letter-spacing:0px;">may affect it e.g.problem</div>
<div class="t" style="left:294.20px;width:200px;text-align:center;top:436.87px;font-size:6.8px;line-height:8.84px;font-weight:400;color:#3d3d3d;letter-spacing:0px;"><i>litter areas</i>. They explore</div>
<div class="t" style="left:294.20px;width:200px;text-align:center;top:445.02px;font-size:6.8px;line-height:8.84px;font-weight:400;color:#3d3d3d;letter-spacing:0px;">how people can damage</div>
<div class="t" style="left:294.20px;width:200px;text-align:center;top:453.17px;font-size:6.8px;line-height:8.84px;font-weight:400;color:#3d3d3d;letter-spacing:0px;">/improve the environment</div>
<div class="t" style="left:294.20px;width:200px;text-align:center;top:461.32px;font-size:6.8px;line-height:8.84px;font-weight:400;color:#3d3d3d;letter-spacing:0px;">and how they can</div>
<div class="t" style="left:294.20px;width:200px;text-align:center;top:469.47px;font-size:6.8px;line-height:8.84px;font-weight:400;color:#3d3d3d;letter-spacing:0px;">contribute to looking after</div>
<div class="t" style="left:294.20px;width:200px;text-align:center;top:477.62px;font-size:6.8px;line-height:8.84px;font-weight:400;color:#3d3d3d;letter-spacing:0px;">our school.</div>
<div class="t" style="left:389.30px;width:200px;text-align:center;top:371.67px;font-size:6.8px;line-height:8.84px;font-weight:400;color:#3d3d3d;letter-spacing:0px;">Children explore the theme</div>
<div class="t" style="left:389.30px;width:200px;text-align:center;top:379.82px;font-size:6.8px;line-height:8.84px;font-weight:400;color:#3d3d3d;letter-spacing:0px;">of <b style="color:#2e2e2e;letter-spacing:-0.2px">values and perceptions</b></div>
<div class="t" style="left:389.30px;width:200px;text-align:center;top:387.97px;font-size:6.8px;line-height:8.84px;font-weight:400;color:#3d3d3d;letter-spacing:0px;">by learning about a diverse</div>
<div class="t" style="left:389.30px;width:200px;text-align:center;top:396.12px;font-size:6.8px;line-height:8.84px;font-weight:400;color:#3d3d3d;letter-spacing:0px;">range of significant British</div>
<div class="t" style="left:389.30px;width:200px;text-align:center;top:404.27px;font-size:6.8px;line-height:8.84px;font-weight:400;color:#3d3d3d;letter-spacing:0px;">individuals who have been</div>
<div class="t" style="left:389.30px;width:200px;text-align:center;top:412.42px;font-size:6.8px;line-height:8.84px;font-weight:400;color:#3d3d3d;letter-spacing:0px;">role models to society</div>
<div class="t" style="left:389.30px;width:200px;text-align:center;top:420.57px;font-size:6.8px;line-height:8.84px;font-weight:400;color:#3d3d3d;letter-spacing:0px;">representing British</div>
<div class="t" style="left:389.30px;width:200px;text-align:center;top:428.72px;font-size:6.8px;line-height:8.84px;font-weight:400;color:#3d3d3d;letter-spacing:0px;">Values. They learn the</div>
<div class="t" style="left:389.30px;width:200px;text-align:center;top:436.87px;font-size:6.8px;line-height:8.84px;font-weight:400;color:#3d3d3d;letter-spacing:0px;">term '<b style="color:#2e2e2e;letter-spacing:-0.2px">stereotype</b>' and are</div>
<div class="t" style="left:389.30px;width:200px;text-align:center;top:445.02px;font-size:6.8px;line-height:8.84px;font-weight:400;color:#3d3d3d;letter-spacing:0px;">encouraged to break down</div>
<div class="t" style="left:389.30px;width:200px;text-align:center;top:453.17px;font-size:6.8px;line-height:8.84px;font-weight:400;color:#3d3d3d;letter-spacing:0px;">typical stereotypes about</div>
<div class="t" style="left:389.30px;width:200px;text-align:center;top:461.32px;font-size:6.8px;line-height:8.84px;font-weight:400;color:#3d3d3d;letter-spacing:0px;">country, gender etc.</div>
<div class="t" style="left:389.30px;width:200px;text-align:center;top:469.47px;font-size:6.8px;line-height:8.84px;font-weight:400;color:#3d3d3d;letter-spacing:0px;">They develop an</div>
<div class="t" style="left:389.30px;width:200px;text-align:center;top:477.62px;font-size:6.8px;line-height:8.84px;font-weight:400;color:#3d3d3d;letter-spacing:0px;">awareness that others</div>
<div class="t" style="left:389.30px;width:200px;text-align:center;top:485.77px;font-size:6.8px;line-height:8.84px;font-weight:400;color:#3d3d3d;letter-spacing:0px;">have different lived</div>
<div class="t" style="left:389.30px;width:200px;text-align:center;top:493.92px;font-size:6.8px;line-height:8.84px;font-weight:400;color:#3d3d3d;letter-spacing:0px;">experiences.</div>
<div class="t" style="left:484.40px;width:200px;text-align:center;top:371.52px;font-size:6.95px;line-height:9.04px;font-weight:400;color:#3d3d3d;letter-spacing:0px;">Children learn about Tudor</div>
<div class="t" style="left:484.40px;width:200px;text-align:center;top:379.67px;font-size:6.95px;line-height:9.04px;font-weight:400;color:#3d3d3d;letter-spacing:0px;">social classes and take</div>
<div class="t" style="left:484.40px;width:200px;text-align:center;top:387.82px;font-size:6.95px;line-height:9.04px;font-weight:400;color:#3d3d3d;letter-spacing:0px;">part in discussions of what</div>
<div class="t" style="left:484.40px;width:200px;text-align:center;top:395.97px;font-size:6.95px;line-height:9.04px;font-weight:400;color:#3d3d3d;letter-spacing:0px;">fairness means with</div>
<div class="t" style="left:484.40px;width:200px;text-align:center;top:404.12px;font-size:6.95px;line-height:9.04px;font-weight:400;color:#3d3d3d;letter-spacing:0px;">examples of what it means</div>
<div class="t" style="left:484.40px;width:200px;text-align:center;top:412.27px;font-size:6.95px;line-height:9.04px;font-weight:400;color:#3d3d3d;letter-spacing:0px;">to be rich or poor in</div>
<div class="t" style="left:484.40px;width:200px;text-align:center;top:420.42px;font-size:6.95px;line-height:9.04px;font-weight:400;color:#3d3d3d;letter-spacing:0px;">different contexts. They</div>
<div class="t" style="left:484.40px;width:200px;text-align:center;top:428.57px;font-size:6.95px;line-height:9.04px;font-weight:400;color:#3d3d3d;letter-spacing:0px;">explore the theme of</div>
<div class="t" style="left:484.40px;width:200px;text-align:center;top:436.72px;font-size:6.95px;line-height:9.04px;font-weight:400;color:#3d3d3d;letter-spacing:0px;"><b style="color:#2e2e2e;letter-spacing:-0.2px">social justice</b></div>
<div class="t" style="left:484.40px;width:200px;text-align:center;top:444.87px;font-size:6.95px;line-height:9.04px;font-weight:400;color:#3d3d3d;letter-spacing:0px;">understanding that</div>
<div class="t" style="left:484.40px;width:200px;text-align:center;top:453.02px;font-size:6.95px;line-height:9.04px;font-weight:400;color:#3d3d3d;letter-spacing:0px;">fairness may not always</div>
<div class="t" style="left:484.40px;width:200px;text-align:center;top:461.17px;font-size:6.95px;line-height:9.04px;font-weight:400;color:#3d3d3d;letter-spacing:0px;">mean equal treatment.</div>
<div class="t" style="left:484.40px;width:200px;text-align:center;top:469.32px;font-size:6.95px;line-height:9.04px;font-weight:400;color:#3d3d3d;letter-spacing:0px;">They look at some causes</div>
<div class="t" style="left:484.40px;width:200px;text-align:center;top:477.47px;font-size:6.95px;line-height:9.04px;font-weight:400;color:#3d3d3d;letter-spacing:0px;">and effects of poverty and</div>
<div class="t" style="left:484.40px;width:200px;text-align:center;top:485.62px;font-size:6.95px;line-height:9.04px;font-weight:400;color:#3d3d3d;letter-spacing:0px;">inequality discussing the</div>
<div class="t" style="left:484.40px;width:200px;text-align:center;top:493.77px;font-size:6.95px;line-height:9.04px;font-weight:400;color:#3d3d3d;letter-spacing:0px;">relevancy of this today.</div>
<div class="t" style="left:639.00px;top:371.67px;font-size:6.8px;line-height:8.84px;font-weight:400;color:#3d3d3d;letter-spacing:0px;">Children explore the theme</div>
<div class="t" style="left:639.00px;top:379.82px;font-size:6.8px;line-height:8.84px;font-weight:400;color:#3d3d3d;letter-spacing:0px;">of <b style="color:#2e2e2e;letter-spacing:-0.2px">Conflict Resolution.</b></div>
<div class="t" style="left:639.00px;top:387.97px;font-size:6.8px;line-height:8.84px;font-weight:400;color:#3d3d3d;letter-spacing:0px;">Through the</div>
<div class="t" style="left:639.00px;top:396.12px;font-size:6.8px;line-height:8.84px;font-weight:400;color:#3d3d3d;letter-spacing:0px;">historical&nbsp; lens of power</div>
<div class="t" style="left:639.00px;top:404.27px;font-size:6.8px;line-height:8.84px;font-weight:400;color:#3d3d3d;letter-spacing:0px;">and rule, children will</div>
<div class="t" style="left:639.00px;top:412.42px;font-size:6.8px;line-height:8.84px;font-weight:400;color:#3d3d3d;letter-spacing:0px;">make connections to the</div>
<div class="t" style="left:639.00px;top:420.57px;font-size:6.8px;line-height:8.84px;font-weight:400;color:#3d3d3d;letter-spacing:0px;">need for rules in school</div>
<div class="t" style="left:639.00px;top:428.72px;font-size:6.8px;line-height:8.84px;font-weight:400;color:#3d3d3d;letter-spacing:0px;">and wider society and how</div>
<div class="t" style="left:639.00px;top:436.87px;font-size:6.8px;line-height:8.84px;font-weight:400;color:#3d3d3d;letter-spacing:0px;">people can take part in</div>
<div class="t" style="left:639.00px;top:445.02px;font-size:6.8px;line-height:8.84px;font-weight:400;color:#3d3d3d;letter-spacing:0px;">making and changing</div>
<div class="t" style="left:639.00px;top:453.17px;font-size:6.8px;line-height:8.84px;font-weight:400;color:#3d3d3d;letter-spacing:0px;">them. They compare</div>
<div class="t" style="left:639.00px;top:461.32px;font-size:6.8px;line-height:8.84px;font-weight:400;color:#3d3d3d;letter-spacing:0px;">rulers' approach to</div>
<div class="t" style="left:639.00px;top:469.47px;font-size:6.8px;line-height:8.84px;font-weight:400;color:#3d3d3d;letter-spacing:0px;">managing conflict and</div>
<div class="t" style="left:639.00px;top:477.62px;font-size:6.8px;line-height:8.84px;font-weight:400;color:#3d3d3d;letter-spacing:0px;">apply this to their own life.</div>
<div class="t" style="left:674.60px;width:200px;text-align:center;top:371.63px;font-size:6.85px;line-height:8.9px;font-weight:400;color:#3d3d3d;letter-spacing:0px;">Children explore the theme</div>
<div class="t" style="left:674.60px;width:200px;text-align:center;top:379.78px;font-size:6.85px;line-height:8.9px;font-weight:400;color:#3d3d3d;letter-spacing:0px;">of <b style="color:#2e2e2e;letter-spacing:-0.2px">Social Justice.</b> After</div>
<div class="t" style="left:674.60px;width:200px;text-align:center;top:387.93px;font-size:6.85px;line-height:8.9px;font-weight:400;color:#3d3d3d;letter-spacing:0px;">learning about the ancient</div>
<div class="t" style="left:674.60px;width:200px;text-align:center;top:396.08px;font-size:6.85px;line-height:8.9px;font-weight:400;color:#3d3d3d;letter-spacing:0px;">greek democracy, children</div>
<div class="t" style="left:674.60px;width:200px;text-align:center;top:404.23px;font-size:6.85px;line-height:8.9px;font-weight:400;color:#3d3d3d;letter-spacing:0px;">explore how this has</div>
<div class="t" style="left:674.60px;width:200px;text-align:center;top:412.38px;font-size:6.85px;line-height:8.9px;font-weight:400;color:#3d3d3d;letter-spacing:0px;">impacted modern day.</div>
<div class="t" style="left:674.60px;width:200px;text-align:center;top:420.53px;font-size:6.85px;line-height:8.9px;font-weight:400;color:#3d3d3d;letter-spacing:0px;">They learn the basics of</div>
<div class="t" style="left:674.60px;width:200px;text-align:center;top:428.68px;font-size:6.85px;line-height:8.9px;font-weight:400;color:#3d3d3d;letter-spacing:0px;">how our country and</div>
<div class="t" style="left:674.60px;width:200px;text-align:center;top:436.83px;font-size:6.85px;line-height:8.9px;font-weight:400;color:#3d3d3d;letter-spacing:0px;">region is governed today</div>
<div class="t" style="left:674.60px;width:200px;text-align:center;top:444.98px;font-size:6.85px;line-height:8.9px;font-weight:400;color:#3d3d3d;letter-spacing:0px;">and gain awareness of</div>
<div class="t" style="left:674.60px;width:200px;text-align:center;top:453.13px;font-size:6.85px;line-height:8.9px;font-weight:400;color:#3d3d3d;letter-spacing:0px;">how a lack of power and</div>
<div class="t" style="left:674.60px;width:200px;text-align:center;top:461.28px;font-size:6.85px;line-height:8.9px;font-weight:400;color:#3d3d3d;letter-spacing:0px;">representation can result</div>
<div class="t" style="left:674.60px;width:200px;text-align:center;top:469.43px;font-size:6.85px;line-height:8.9px;font-weight:400;color:#3d3d3d;letter-spacing:0px;">in discrimination.</div>
<div class="t" style="left:769.90px;width:200px;text-align:center;top:371.67px;font-size:6.8px;line-height:8.84px;font-weight:400;color:#3d3d3d;letter-spacing:0px;">Children explore the theme</div>
<div class="t" style="left:769.90px;width:200px;text-align:center;top:379.82px;font-size:6.8px;line-height:8.84px;font-weight:400;color:#3d3d3d;letter-spacing:0px;">of <b style="color:#2e2e2e;letter-spacing:-0.2px">Values and Perceptions</b></div>
<div class="t" style="left:769.90px;width:200px;text-align:center;top:387.97px;font-size:6.8px;line-height:8.84px;font-weight:400;color:#3d3d3d;letter-spacing:0px;">by learning about the</div>
<div class="t" style="left:769.90px;width:200px;text-align:center;top:396.12px;font-size:6.8px;line-height:8.84px;font-weight:400;color:#3d3d3d;letter-spacing:0px;">Islamic golden age,</div>
<div class="t" style="left:769.90px;width:200px;text-align:center;top:404.27px;font-size:6.8px;line-height:8.84px;font-weight:400;color:#3d3d3d;letter-spacing:0px;">children develop a strong</div>
<div class="t" style="left:769.90px;width:200px;text-align:center;top:412.42px;font-size:6.8px;line-height:8.84px;font-weight:400;color:#3d3d3d;letter-spacing:0px;">understanding of the early</div>
<div class="t" style="left:769.90px;width:200px;text-align:center;top:420.57px;font-size:6.8px;line-height:8.84px;font-weight:400;color:#3d3d3d;letter-spacing:0px;">achievements in the</div>
<div class="t" style="left:769.90px;width:200px;text-align:center;top:428.72px;font-size:6.8px;line-height:8.84px;font-weight:400;color:#3d3d3d;letter-spacing:0px;">middle east and the</div>
<div class="t" style="left:769.90px;width:200px;text-align:center;top:436.87px;font-size:6.8px;line-height:8.84px;font-weight:400;color:#3d3d3d;letter-spacing:0px;">widespread of the islamic</div>
<div class="t" style="left:769.90px;width:200px;text-align:center;top:445.02px;font-size:6.8px;line-height:8.84px;font-weight:400;color:#3d3d3d;letter-spacing:0px;">faith. They develop</div>
<div class="t" style="left:769.90px;width:200px;text-align:center;top:453.17px;font-size:6.8px;line-height:8.84px;font-weight:400;color:#3d3d3d;letter-spacing:0px;">positive attitudes, learn</div>
<div class="t" style="left:769.90px;width:200px;text-align:center;top:461.32px;font-size:6.8px;line-height:8.84px;font-weight:400;color:#3d3d3d;letter-spacing:0px;">the <b style="color:#2e2e2e;letter-spacing:-0.2px">impacts of</b></div>
<div class="t" style="left:769.90px;width:200px;text-align:center;top:469.47px;font-size:6.8px;line-height:8.84px;font-weight:400;color:#3d3d3d;letter-spacing:0px;"><b style="color:#2e2e2e;letter-spacing:-0.2px">stereotyping, prejudice</b></div>
<div class="t" style="left:769.90px;width:200px;text-align:center;top:477.62px;font-size:6.8px;line-height:8.84px;font-weight:400;color:#3d3d3d;letter-spacing:0px;"><b style="color:#2e2e2e;letter-spacing:-0.2px">and discrimination</b> and</div>
<div class="t" style="left:769.90px;width:200px;text-align:center;top:485.77px;font-size:6.8px;line-height:8.84px;font-weight:400;color:#3d3d3d;letter-spacing:0px;">how to challenge these.</div>

</body></html>
